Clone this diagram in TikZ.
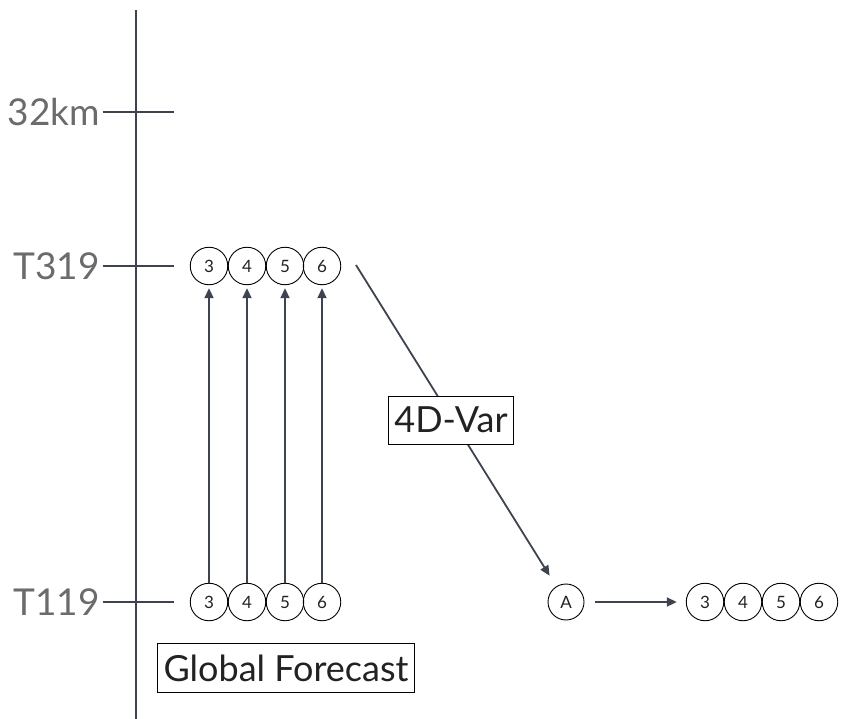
\documentclass[tikz,border=0pt]{standalone}
\usepackage{fontspec}
\setmainfont{Lato}
\usetikzlibrary{arrows.meta}
\definecolor{slate}{HTML}{3D4450}
\definecolor{labelgray}{HTML}{6B6B6B}
\definecolor{ink}{HTML}{222222}
\begin{document}
\begin{tikzpicture}[x=1pt,y=-1pt,
  axisline/.style={draw=slate,line width=2pt},
  levellabel/.style={anchor=east,inner sep=3pt,text=labelgray,font=\fontsize{37}{40}\selectfont},
  member/.style={circle,draw=black,line width=0.9pt,minimum size=37.5pt,inner sep=0pt,text=ink,font=\fontsize{17}{19}\selectfont},
  flow/.style={draw=slate,line width=1.8pt,-{Triangle[length=10pt,width=9pt]}},
  boxlabel/.style={draw=black,line width=0.9pt,fill=white,inner xsep=6pt,inner ysep=11pt,text=ink,font=\fontsize{36}{40}\selectfont}]
\useasboundingbox (0,0) rectangle (841,719);

% vertical resolution axis
\coordinate (axtop) at (136,10);
\coordinate (axbot) at (136,719);
\draw[axisline] (axtop) -- (axbot);

% resolution ticks and labels
\coordinate (k1) at (103,112); \coordinate (k2) at (174,112);
\coordinate (t1) at (103,266); \coordinate (t2) at (174,266);
\coordinate (l1) at (103,602); \coordinate (l2) at (174,602);
\draw[axisline] (k1) -- (k2);
\draw[axisline] (t1) -- (t2);
\draw[axisline] (l1) -- (l2);
\node[levellabel] (lab32) at (k1) {32km};
\node[levellabel] (lab319) at (t1) {T319};
\node[levellabel] (lab119) at (l1) {T119};

% high-resolution members
\node[member] (h3) at (209,266) {3};
\node[member] (h4) at (247,266) {4};
\node[member] (h5) at (285,266) {5};
\node[member] (h6) at (322,266) {6};

% low-resolution members
\node[member] (g3) at (209,602) {3};
\node[member] (g4) at (247,602) {4};
\node[member] (g5) at (285,602) {5};
\node[member] (g6) at (322,602) {6};

% analysis and resulting members
\node[member,minimum size=36pt] (A) at (566,602) {A};
\node[member] (r3) at (705,602) {3};
\node[member] (r4) at (743,602) {4};
\node[member] (r5) at (781,602) {5};
\node[member] (r6) at (819,602) {6};

% upward arrows
\foreach \n in {3,4,5,6}
  \draw[flow,shorten >=3pt] (g\n.north) -- (h\n.south);

% 4D-Var arrow
\coordinate (vstart) at (356,265);
\draw[flow,shorten >=31pt] (vstart) -- (A.center);
\node[boxlabel] (var) at (451,420) {4D-Var};

% analysis to members
\draw[flow,shorten <=11pt,shorten >=9pt] (A.east) -- (r3.west);

% caption box
\node[boxlabel] (gf) at (286,668) {Global Forecast};
\end{tikzpicture}
\end{document}
